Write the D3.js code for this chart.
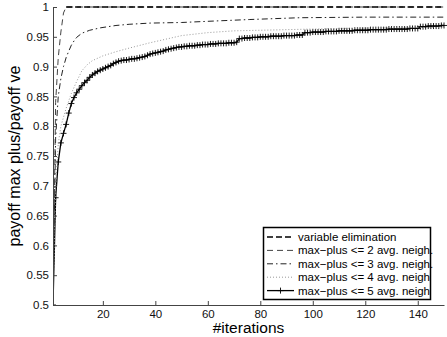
<!doctype html>
<head>
  <meta charset="utf-8">
  <script src="https://cdnjs.cloudflare.com/ajax/libs/d3/7.8.2/d3.min.js"></script>
</head>
<style>
  body { margin: 0; background: #fff; }
  svg { display: block; font-family: "Liberation Sans", Arial, Helvetica, sans-serif; }
</style>
<body>
  <div id="chart"></div>
  <script>
    // axis ticks
    const xTicks = [20, 40, 60, 80, 100, 120, 140];
    const yTicks = [0.5, 0.55, 0.6, 0.65, 0.7, 0.75, 0.8, 0.85, 0.9, 0.95, 1];
    const yTickLabels = ["0.5", "0.55", "0.6", "0.65", "0.7", "0.75", "0.8", "0.85", "0.9", "0.95", "1"];

    // variable elimination (constant)
    const veIter = [6, 150];
    const veVal = [1, 1];

    // max-plus <= 2 avg. neigh.
    const mp2Iter = [1, 2, 3, 4, 5, 6, 150];
    const mp2Val = [0.5, 0.84, 0.915, 0.958, 0.99, 1, 1];

    // max-plus <= 3 avg. neigh.
    const mp3Iter = [1, 2, 3, 4, 5, 6, 7, 8, 9, 10, 12, 15, 19, 25, 30, 38, 50, 60, 76, 95, 120, 150];
    const mp3Val = [0.5, 0.78, 0.85, 0.88, 0.9, 0.915, 0.926, 0.936, 0.943, 0.949, 0.956, 0.961, 0.965,
                    0.969, 0.971, 0.973, 0.974, 0.976, 0.979, 0.982, 0.983, 0.983];

    // max-plus <= 4 avg. neigh
    const mp4Iter = [1, 2, 3, 4, 5, 6, 8, 10, 12, 14, 16, 20, 25, 30, 38, 50, 60, 70, 90, 110, 130, 150];
    const mp4Val = [0.5, 0.7, 0.77, 0.8, 0.815, 0.83, 0.855, 0.875, 0.893, 0.903, 0.91, 0.918, 0.925,
                    0.931, 0.94, 0.952, 0.957, 0.96, 0.962, 0.964, 0.965, 0.966];

    // max-plus <= 5 avg. neigh (one value per iteration, 1..150)
    const mp5Val = [
      0.500, 0.680, 0.740, 0.772, 0.788, 0.803, 0.822, 0.838, 0.848, 0.856,
      0.862, 0.868, 0.873, 0.877, 0.882, 0.886, 0.889, 0.892, 0.894, 0.896,
      0.898, 0.900, 0.902, 0.905, 0.907, 0.909, 0.910, 0.911, 0.911, 0.912,
      0.913, 0.913, 0.914, 0.915, 0.916, 0.917, 0.919, 0.921, 0.922, 0.923,
      0.924, 0.925, 0.926, 0.928, 0.929, 0.930, 0.931, 0.932, 0.933, 0.933,
      0.934, 0.934, 0.935, 0.935, 0.935, 0.936, 0.936, 0.937, 0.937, 0.937,
      0.938, 0.938, 0.938, 0.939, 0.939, 0.939, 0.939, 0.940, 0.940, 0.940,
      0.941, 0.947, 0.947, 0.948, 0.948, 0.948, 0.949, 0.949, 0.949, 0.950,
      0.950, 0.950, 0.950, 0.951, 0.951, 0.951, 0.951, 0.951, 0.952, 0.952,
      0.952, 0.952, 0.952, 0.953, 0.953, 0.953, 0.957, 0.957, 0.957, 0.958,
      0.958, 0.958, 0.958, 0.958, 0.959, 0.959, 0.959, 0.959, 0.959, 0.960,
      0.960, 0.960, 0.960, 0.960, 0.960, 0.961, 0.961, 0.961, 0.961, 0.961,
      0.961, 0.962, 0.962, 0.962, 0.962, 0.962, 0.962, 0.962, 0.963, 0.963,
      0.963, 0.963, 0.963, 0.963, 0.963, 0.963, 0.964, 0.964, 0.964, 0.964,
      0.967, 0.967, 0.967, 0.968, 0.968, 0.968, 0.968, 0.968, 0.969, 0.969
    ];

    const legendLabels = [
      "variable elimination",
      "max\u2212plus <= 2 avg. neigh.",
      "max\u2212plus <= 3 avg. neigh.",
      "max\u2212plus <= 4 avg. neigh",
      "max\u2212plus <= 5 avg. neigh"
    ];

    const width = 447, height = 337;
    const plot = { left: 53, right: 444, top: 7, bottom: 305 };

    const svg = d3.select('#chart').append('svg')
      .attr('width', width)
      .attr('height', height);

    const x = d3.scaleLinear().domain([1, 150]).range([plot.left, plot.right]);
    const y = d3.scaleLinear().domain([0.5, 1]).range([plot.bottom, plot.top]);

    svg.append('clipPath').attr('id', 'clip')
      .append('rect')
      .attr('x', plot.left).attr('y', plot.top - 3)
      .attr('width', plot.right - plot.left + 3).attr('height', plot.bottom - plot.top + 3);

    // styles of each series
    const series = [
      { iter: veIter, val: veVal, color: '#000', width: 1.5, dash: '6,3' },
      { iter: mp2Iter, val: mp2Val, color: '#444', width: 1, dash: '6,4' },
      { iter: mp3Iter, val: mp3Val, color: '#222', width: 1, dash: '6,3,1.5,3' },
      { iter: mp4Iter, val: mp4Val, color: '#999', width: 1, dash: '1,2' },
      { iter: mp5Val.map((d, i) => i + 1), val: mp5Val, color: '#000', width: 1.3, dash: null, marker: true },
    ];

    const line = d3.line()
      .x(d => x(d[0]))
      .y(d => y(d[1]));

    const g = svg.append('g').attr('clip-path', 'url(#clip)');

    // draw back to front so the solid line is on top
    series.slice().reverse().forEach(s => {
      const pts = s.iter.map((it, i) => [it, s.val[i]]);
      g.append('path')
        .attr('d', line(pts))
        .attr('fill', 'none')
        .attr('stroke', s.color)
        .attr('stroke-width', s.width)
        .attr('stroke-dasharray', s.dash);
      if (s.marker) {
        g.selectAll('.mk')
          .data(pts)
          .enter()
          .append('path')
          .attr('d', 'M-3,0H3M0,-3V3')
          .attr('transform', d => `translate(${x(d[0])},${y(d[1])})`)
          .attr('stroke', s.color)
          .attr('stroke-width', 0.9);
      }
    });

    // axes with inward ticks
    const xAxis = svg.append('g')
      .attr('transform', `translate(0,${plot.bottom})`)
      .call(d3.axisBottom(x).tickValues(xTicks).tickSizeInner(-4).tickSizeOuter(0).tickPadding(5));
    const yAxis = svg.append('g')
      .attr('transform', `translate(${plot.left},0)`)
      .call(d3.axisLeft(y).tickValues(yTicks).tickFormat((d, i) => yTickLabels[i])
        .tickSizeInner(-4).tickSizeOuter(0).tickPadding(4));

    [xAxis, yAxis].forEach(a => {
      a.select('.domain').attr('stroke', '#444');
      a.selectAll('.tick line').attr('stroke', '#444');
      a.selectAll('.tick text').attr('fill', '#111').style('font-size', '11.5px')
        .style('font-family', '"Liberation Sans", Arial, sans-serif');
    });

    // axis titles
    svg.append('text')
      .attr('x', (plot.left + plot.right) / 2)
      .attr('y', 333)
      .attr('text-anchor', 'middle')
      .style('font-size', '15.5px')
      .text('#iterations');

    svg.append('text')
      .attr('transform', `translate(20,${(plot.top + plot.bottom) / 2}) rotate(-90)`)
      .attr('text-anchor', 'middle')
      .style('font-size', '16px')
      .text('payoff max plus/payoff ve');

    // legend
    const lg = svg.append('g');
    lg.append('rect')
      .attr('x', 263.5).attr('y', 227.5)
      .attr('width', 167).attr('height', 72)
      .attr('fill', '#fff')
      .attr('stroke', '#000')
      .attr('stroke-width', 1.5);

    series.forEach((s, i) => {
      const ry = 237 + i * 13.4;
      lg.append('line')
        .attr('x1', 267).attr('x2', 294)
        .attr('y1', ry).attr('y2', ry)
        .attr('stroke', s.color)
        .attr('stroke-width', s.width)
        .attr('stroke-dasharray', s.dash);
      if (s.marker) {
        lg.append('path')
          .attr('d', 'M-3,0H3M0,-3V3')
          .attr('transform', `translate(280.5,${ry})`)
          .attr('stroke', s.color)
          .attr('stroke-width', 0.9);
      }
      lg.append('text')
        .attr('x', 298).attr('y', ry)
        .attr('dy', '0.35em')
        .style('font-size', '11.5px')
        .text(legendLabels[i]);
    });
  </script>
</body>
